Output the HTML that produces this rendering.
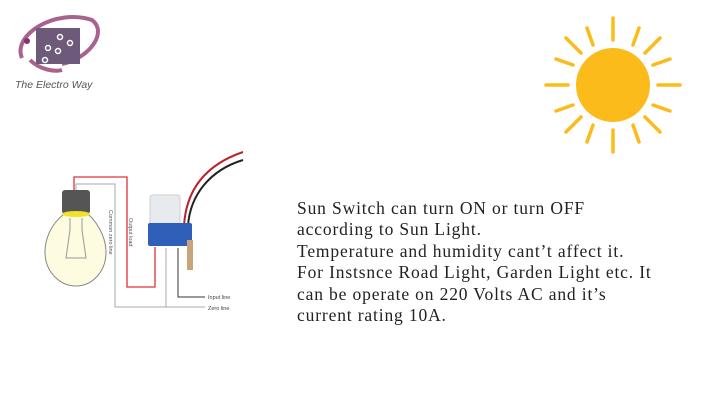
<!DOCTYPE html>
<html><head><meta charset="utf-8"><style>
body{margin:0;width:720px;height:405px;background:#fff;overflow:hidden;position:relative}
.t{position:absolute;left:297px;top:198px;font-family:"Liberation Serif",serif;font-size:17.5px;line-height:21.4px;color:#222;letter-spacing:0.85px;white-space:nowrap}
</style></head><body>
<svg width="720" height="405" style="position:absolute;left:0;top:0">
<!-- logo -->
<path d="M22 58 C12 35 55 8 92 20 C108 32 90 58 62 64" fill="none" stroke="#a8628f" stroke-width="4"/>
<path d="M30 60 C40 70 55 72 62 70" fill="none" stroke="#a8628f" stroke-width="4"/>
<rect x="36" y="28" width="44" height="36" fill="#6d5a7a"/>
<circle cx="27" cy="41" r="3" fill="#8a2f6e"/>
<g stroke="#fff" stroke-width="1.5" fill="none"><circle cx="60" cy="37" r="2.5"/><circle cx="70" cy="43" r="2.5"/><circle cx="48" cy="48" r="2.5"/><circle cx="58" cy="51" r="2.5"/><circle cx="45" cy="60" r="2.5"/></g>
<text x="15" y="88" font-family="Liberation Sans,sans-serif" font-style="italic" font-size="10.5" fill="#555">The Electro Way</text>
<!-- sun -->
<g stroke="#fbbb1a" stroke-width="3.5" stroke-linecap="round">
<line x1="613" y1="40" x2="613" y2="18"/><line x1="613" y1="130" x2="613" y2="152"/>
<line x1="568" y1="85" x2="546" y2="85"/><line x1="658" y1="85" x2="680" y2="85"/>
<line x1="581" y1="53" x2="566" y2="38"/><line x1="645" y1="53" x2="660" y2="38"/>
<line x1="581" y1="117" x2="566" y2="132"/><line x1="645" y1="117" x2="660" y2="132"/>
<line x1="593" y1="45" x2="587" y2="28"/><line x1="633" y1="45" x2="639" y2="28"/>
<line x1="593" y1="125" x2="587" y2="142"/><line x1="633" y1="125" x2="639" y2="142"/>
<line x1="573" y1="65" x2="556" y2="59"/><line x1="653" y1="65" x2="670" y2="59"/>
<line x1="573" y1="105" x2="556" y2="111"/><line x1="653" y1="105" x2="670" y2="111"/>
</g>
<circle cx="613" cy="85" r="37" fill="#fbbb1a"/>
<!-- bulb -->
<path d="M64 214 C50 225 45 240 45 252 C45 272 60 286 76 286 C92 286 106 272 106 252 C106 240 100 225 88 214 Z" fill="#fdfbe0" stroke="#888" stroke-width="1"/>
<path d="M70 218 L70 230 L66 258 L86 258 L82 230 L82 218" fill="none" stroke="#999" stroke-width="1"/>
<rect x="62" y="190" width="28" height="24" rx="3" fill="#555"/>
<ellipse cx="76" cy="214" rx="14" ry="3" fill="#f2e02a"/>
<!-- wires -->
<polyline points="74,190 74,177 127,177 127,287 155,287 155,247" fill="none" stroke="#e0303a" stroke-width="1.3"/>
<polyline points="76,190 76,184 115,184 115,307 205,307" fill="none" stroke="#aaa" stroke-width="1"/>
<line x1="166" y1="248" x2="166" y2="307" stroke="#aaa" stroke-width="1"/>
<polyline points="178,248 178,297 205,297" fill="none" stroke="#333" stroke-width="1"/>
<text x="0" y="0" transform="translate(109,210) rotate(90)" font-family="Liberation Sans,sans-serif" font-size="5.5" fill="#555">Common zero line</text>
<text x="0" y="0" transform="translate(129,218) rotate(90)" font-family="Liberation Sans,sans-serif" font-size="5.5" fill="#555">Output load</text>
<text x="208" y="299" font-family="Liberation Sans,sans-serif" font-size="5.5" fill="#444">Input line</text>
<text x="208" y="310" font-family="Liberation Sans,sans-serif" font-size="5.5" fill="#444">Zero line</text>
<!-- switch -->
<path d="M184 226 C186 190 205 165 243 152" fill="none" stroke="#c0202a" stroke-width="2"/>
<path d="M188 226 C190 195 210 170 243 160" fill="none" stroke="#222" stroke-width="2"/>
<rect x="150" y="195" width="30" height="32" rx="3" fill="#e8ebee" stroke="#ccc"/>
<rect x="148" y="223" width="44" height="23" rx="2" fill="#2f5fb8"/>
<rect x="187" y="240" width="6" height="30" fill="#c9a47a"/>
</svg>
<div class="t">Sun Switch can turn ON or turn OFF<br>according to Sun Light.<br>Temperature and humidity cant’t affect it.<br>For Instsnce Road Light, Garden Light etc. It<br>can be operate on 220 Volts AC and it’s<br>current rating 10A.</div>
</body></html>
